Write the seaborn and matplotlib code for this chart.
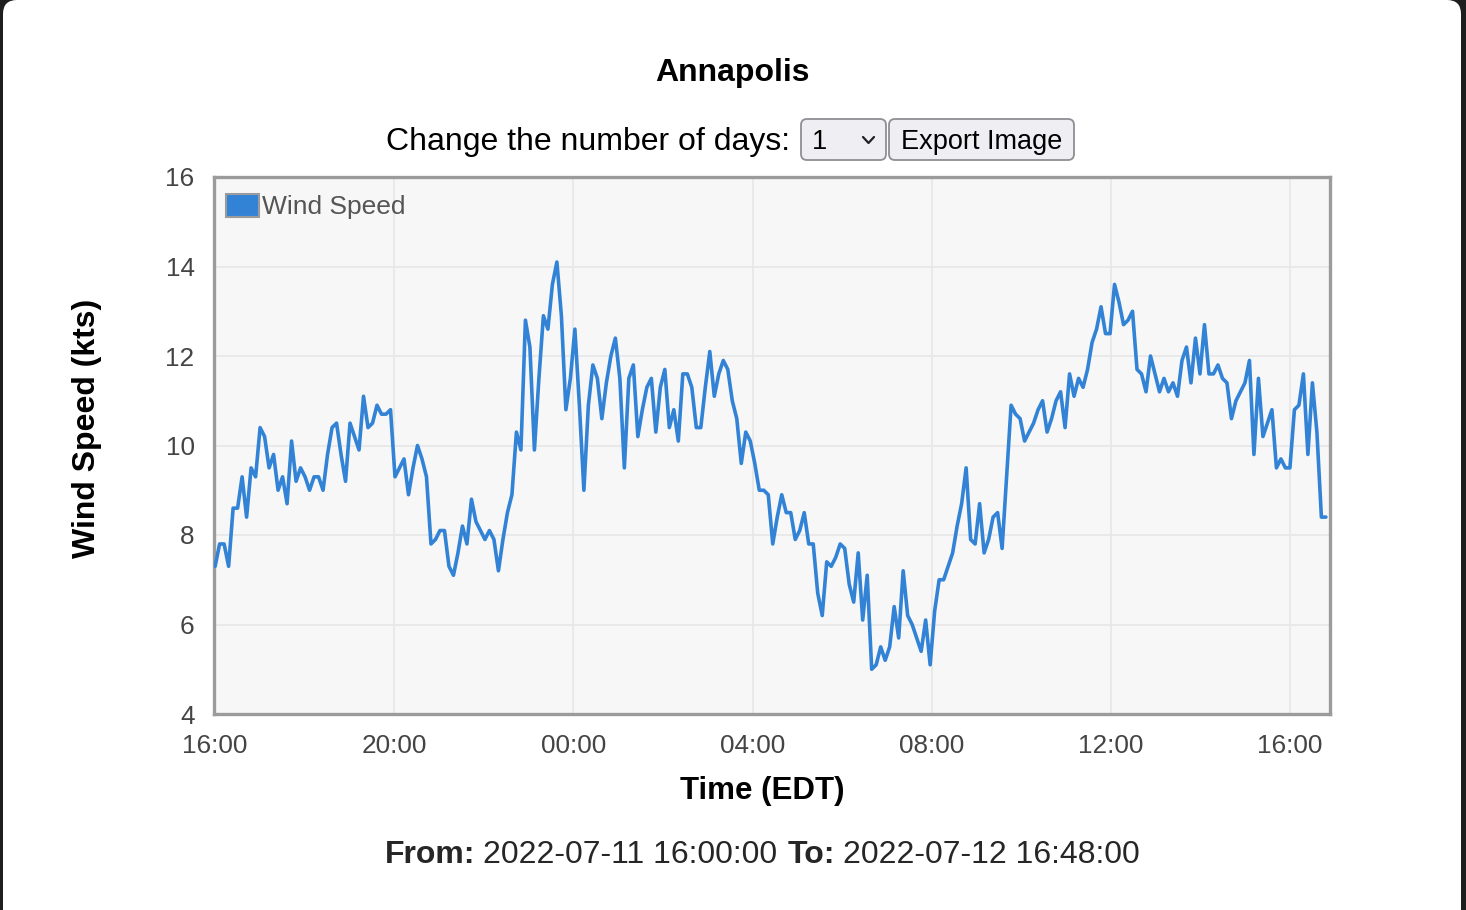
import numpy as np
import pandas as pd
import matplotlib
matplotlib.use("Agg")
import matplotlib.pyplot as plt
import matplotlib.dates as mdates
from matplotlib.patches import FancyBboxPatch, Patch
from matplotlib.lines import Line2D
from matplotlib.transforms import IdentityTransform
import seaborn as sns

# ---------------- data ----------------
station = "Annapolis"
start_time = "2022-07-11 16:00:00"
end_time = "2022-07-12 16:48:00"
wind_speed = [
    7.3, 7.8, 7.8, 7.3, 8.6, 8.6, 9.3, 8.4, 9.5, 9.3,
    10.4, 10.2, 9.5, 9.8, 9.0, 9.3, 8.7, 10.1, 9.2, 9.5,
    9.3, 9.0, 9.3, 9.3, 9.0, 9.8, 10.4, 10.5, 9.8, 9.2,
    10.5, 10.2, 9.9, 11.1, 10.4, 10.5, 10.9, 10.7, 10.7, 10.8,
    9.3, 9.5, 9.7, 8.9, 9.5, 10.0, 9.7, 9.3, 7.8, 7.9,
    8.1, 8.1, 7.3, 7.1, 7.6, 8.2, 7.8, 8.8, 8.3, 8.1,
    7.9, 8.1, 7.9, 7.2, 7.9, 8.5, 8.9, 10.3, 9.9, 12.8,
    12.2, 9.9, 11.5, 12.9, 12.6, 13.6, 14.1, 12.9, 10.8, 11.5,
    12.6, 10.9, 9.0, 10.9, 11.8, 11.5, 10.6, 11.4, 12.0, 12.4,
    11.5, 9.5, 11.5, 11.8, 10.2, 10.8, 11.3, 11.5, 10.3, 11.3,
    11.7, 10.4, 10.8, 10.1, 11.6, 11.6, 11.3, 10.4, 10.4, 11.3,
    12.1, 11.1, 11.6, 11.9, 11.7, 11.0, 10.6, 9.6, 10.3, 10.1,
    9.6, 9.0, 9.0, 8.9, 7.8, 8.4, 8.9, 8.5, 8.5, 7.9,
    8.1, 8.5, 7.8, 7.8, 6.7, 6.2, 7.4, 7.3, 7.5, 7.8,
    7.7, 6.9, 6.5, 7.6, 6.1, 7.1, 5.0, 5.1, 5.5, 5.2,
    5.5, 6.4, 5.7, 7.2, 6.2, 6.0, 5.7, 5.4, 6.1, 5.1,
    6.3, 7.0, 7.0, 7.3, 7.6, 8.2, 8.7, 9.5, 7.9, 7.8,
    8.7, 7.6, 7.9, 8.4, 8.5, 7.7, 9.3, 10.9, 10.7, 10.6,
    10.1, 10.3, 10.5, 10.8, 11.0, 10.3, 10.6, 11.0, 11.2, 10.4,
    11.6, 11.1, 11.5, 11.3, 11.7, 12.3, 12.6, 13.1, 12.5, 12.5,
    13.6, 13.2, 12.7, 12.8, 13.0, 11.7, 11.6, 11.2, 12.0, 11.6,
    11.2, 11.5, 11.2, 11.4, 11.1, 11.9, 12.2, 11.4, 12.4, 11.6,
    12.7, 11.6, 11.6, 11.8, 11.5, 11.4, 10.6, 11.0, 11.2, 11.4,
    11.9, 9.8, 11.5, 10.2, 10.5, 10.8, 9.5, 9.7, 9.5, 9.5,
    10.8, 10.9, 11.6, 9.8, 11.4, 10.3, 8.4, 8.4,
]
y_ticks = [4, 6, 8, 10, 12, 14, 16]
x_tick_hours = [16, 20, 0, 4, 8, 12]
series_label = "Wind Speed"
y_label = "Wind Speed (kts)"
x_label = "Time (EDT)"
days_options_value = "1"

# ---------------- style ----------------
sns.set_theme(style="whitegrid")
plt.rcParams['font.family'] = ['Liberation Sans', 'DejaVu Sans']

LINE = '#3283d6'
W, H = 1466, 910
fig = plt.figure(figsize=(W / 100, H / 100), dpi=100)
fig.patch.set_facecolor('#1e1e1e')
PX = IdentityTransform()

def py(y):  # top-based pixel -> bottom-based pixel
    return H - y

card = FancyBboxPatch((3, -30), 1458, H + 30, boxstyle="round,pad=0,rounding_size=14",
                      transform=PX, facecolor='white', edgecolor='none', zorder=0)
fig.add_artist(card)

ax = fig.add_axes([214 / W, (H - 714) / H, (1330 - 214) / W, (714 - 177) / H])

df = pd.DataFrame({
    "time": pd.date_range(start_time, end_time, periods=len(wind_speed)),
    "wind": wind_speed,
})
sns.lineplot(data=df, x="time", y="wind", ax=ax, color=LINE, linewidth=2.6,
             legend=False, zorder=3)

ax.set_facecolor('#f7f7f7')
ax.set_ylim(y_ticks[0], y_ticks[-1])
ax.set_yticks(y_ticks)
t0 = pd.Timestamp(start_time)
t1 = pd.Timestamp(end_time)
ax.set_xlim(t0 - pd.Timedelta(minutes=1.5), t1 + pd.Timedelta(minutes=5.5))
ax.xaxis.set_major_locator(mdates.HourLocator(byhour=x_tick_hours))
ax.xaxis.set_major_formatter(mdates.DateFormatter('%H:%M'))
ax.grid(True, color='#e7e7e7', linewidth=1.2)
for s in ax.spines.values():
    s.set_color('#9b9b9b')
    s.set_linewidth(2.4)
ax.tick_params(axis='both', length=0, labelsize=18.8, labelcolor='#444444')
ax.tick_params(axis='y', pad=14)
ax.tick_params(axis='x', pad=14.5)
ax.set_xlabel("")
ax.set_ylabel("")

leg = ax.legend(handles=[Patch(facecolor=LINE, edgecolor='#9b9b9b', linewidth=1.5,
                               label=series_label)],
                loc='upper left', bbox_to_anchor=(12 / 1116, 1 - 17 / 537),
                frameon=False, fontsize=19, labelcolor='#555555',
                handlelength=1.25, handleheight=0.95, handletextpad=0.1,
                borderpad=0.0, borderaxespad=0.0)

# ---------------- header ----------------
fig.text(732 / W, py(73) / H, station, ha='center', va='center',
         fontsize=23, fontweight='bold', color='black')
fig.text(790 / W, py(142) / H, "Change the number of days:", ha='right',
         va='center', fontsize=23, color='black')

sel = FancyBboxPatch((801, py(160)), 85, 41, boxstyle="round,pad=0,rounding_size=6",
                     transform=PX, facecolor='#efeff3', edgecolor='#8e8e93', linewidth=1.3)
fig.add_artist(sel)
fig.text(812 / W, py(142) / H, days_options_value, ha='left', va='center',
         fontsize=19.5, color='black')
fig.add_artist(Line2D([863, 868.5, 874], [py(137), py(143), py(137)], transform=PX,
                      color='#222222', linewidth=1.6))

btn = FancyBboxPatch((889, py(160)), 185, 41, boxstyle="round,pad=0,rounding_size=6",
                     transform=PX, facecolor='#efeff3', edgecolor='#8e8e93', linewidth=1.3)
fig.add_artist(btn)
fig.text(981.5 / W, py(142) / H, "Export Image", ha='center', va='center',
         fontsize=19.5, color='black')

# ---------------- axis labels ----------------
fig.text(87 / W, py(428) / H, y_label, rotation=90, ha='center', va='center',
         fontsize=23, fontweight='bold', color='black')
fig.text(762 / W, py(791) / H, x_label, ha='center', va='center',
         fontsize=22.5, fontweight='bold', color='black')

# ---------------- footer ----------------
fy = py(855) / H
fig.text(385 / W, fy, "From:", ha='left', va='center', fontsize=23, fontweight='bold')
fig.text(483 / W, fy, t0.strftime('%Y-%m-%d %H:%M:%S'), ha='left', va='center', fontsize=23)
fig.text(788 / W, fy, "To:", ha='left', va='center', fontsize=23, fontweight='bold')
fig.text(843 / W, fy, t1.strftime('%Y-%m-%d %H:%M:%S'), ha='left', va='center', fontsize=23)

fig.savefig("out.png", dpi=100, facecolor=fig.get_facecolor())
